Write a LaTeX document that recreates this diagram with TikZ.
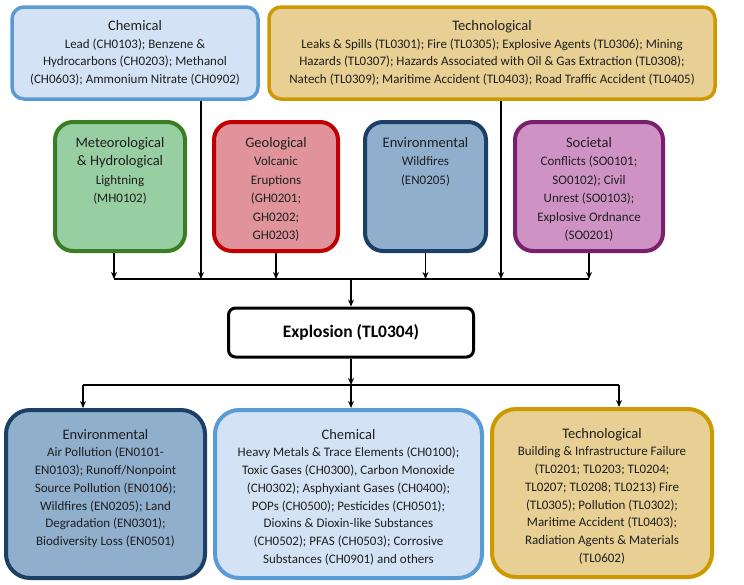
\documentclass[tikz,border=0pt]{standalone}
\usepackage{fontspec}
\setmainfont{Carlito}
\usetikzlibrary{positioning, arrows.meta}

\definecolor{chemfill}{HTML}{D3E3F5}
\definecolor{chemline}{HTML}{5B9BD5}
\definecolor{techfill}{HTML}{E8CF93}
\definecolor{techline}{HTML}{CC9900}
\definecolor{metfill}{HTML}{97CEA2}
\definecolor{metline}{HTML}{3B7D23}
\definecolor{geofill}{HTML}{E0939A}
\definecolor{geoline}{HTML}{C00000}
\definecolor{envfill}{HTML}{8FAFCD}
\definecolor{envline}{HTML}{1C3F66}
\definecolor{socfill}{HTML}{CE93C4}
\definecolor{socline}{HTML}{7A1F6D}

\newcommand{\cattitle}[1]{{\fontsize{14.5}{17.5}\selectfont #1}}

\begin{document}
\begin{tikzpicture}[
    x=1pt, y=-1pt,
    >={Stealth[length=7pt, width=6pt]},
    topbox/.style={draw, line width=3.5pt, rounded corners=12pt, align=center,
                   text=black!88, font=\fontsize{13}{17.5}\selectfont},
    midbox/.style={draw, line width=4pt, rounded corners=18pt, minimum height=129pt},
    lowbox/.style={draw, line width=4pt, rounded corners=24pt, minimum height=168pt},
    cattext/.style={align=center, inner sep=0pt, text=black!88,
                    font=\fontsize{13}{17.7}\selectfont},
    midtext/.style={cattext, font=\fontsize{13}{18.5}\selectfont},
    eventbox/.style={draw, line width=3pt, rounded corners=7pt, fill=white,
                     minimum width=245pt, minimum height=49pt,
                     font=\fontsize{17.5}{20}\selectfont\bfseries},
    arr/.style={->, line width=1.5pt},
    bus/.style={line width=1.5pt}
]
\useasboundingbox (0,0) rectangle (744,584);

% causes
\node[topbox, fill=chemfill, draw=chemline, minimum width=246pt, minimum height=92pt]
  (chemtop) at (135,53)
  {\cattitle{Chemical}\\Lead (CH0103); Benzene \&\\Hydrocarbons (CH0203); Methanol\\(CH0603); Ammonium Nitrate (CH0902)};
\node[topbox, fill=techfill, draw=techline, minimum width=446pt, minimum height=92pt]
  (techtop) at (492,53)
  {\cattitle{Technological}\\Leaks \& Spills (TL0301); Fire (TL0305); Explosive Agents (TL0306); Mining\\Hazards (TL0307); Hazards Associated with Oil \& Gas Extraction (TL0308);\\Natech (TL0309); Maritime Accident (TL0403); Road Traffic Accident (TL0405)};

\node[midbox, fill=metfill, draw=metline, minimum width=130pt] (met) at (120,186.5) {};
\node[midtext, below=17pt of met.north] (mettext)
  {\cattitle{Meteorological}\\\cattitle{\& Hydrological}\\Lightning\\(MH0102)};
\node[midbox, fill=geofill, draw=geoline, minimum width=124pt] (geo) at (276,186.5) {};
\node[midtext, below=17pt of geo.north] (geotext)
  {\cattitle{Geological}\\Volcanic\\Eruptions\\(GH0201;\\GH0202;\\GH0203)};
\node[midbox, fill=envfill, draw=envline, minimum width=121pt] (envmid) at (425.5,186.5) {};
\node[midtext, below=17pt of envmid.north] (envmidtext)
  {\cattitle{Environmental}\\Wildfires\\(EN0205)};
\node[midbox, fill=socfill, draw=socline, minimum width=148pt] (soc) at (589,186.5) {};
\node[midtext, below=17pt of soc.north] (soctext)
  {\cattitle{Societal}\\Conflicts (SO0101;\\SO0102); Civil\\Unrest (SO0103);\\Explosive Ordnance\\(SO0201)};

% junctions
\coordinate (jmet) at (114,279);
\coordinate (jchem) at (201,279);
\coordinate (jgeo) at (276,279);
\coordinate (jmid) at (351,279);
\coordinate (jenv) at (425.5,279);
\coordinate (jtech) at (501,279);
\coordinate (jsoc) at (589,279);

\draw[bus] (jmet) -- (jsoc);
\draw[arr] (met.south -| jmet) -- (jmet);
\draw[arr] (chemtop.south -| jchem) -- (jchem);
\draw[arr] (geo.south -| jgeo) -- (jgeo);
\draw[arr] (envmid.south -| jenv) -- (jenv);
\draw[arr] (techtop.south -| jtech) -- (jtech);
\draw[arr] (soc.south -| jsoc) -- (jsoc);

% hazard
\node[eventbox] (expl) at (351,332.5) {Explosion (TL0304)};
\draw[arr] (jmid) -- (expl.north);

% impacts
\node[lowbox, fill=envfill, draw=envline, minimum width=199pt] (envlow) at (105.5,494) {};
\node[cattext, below=21pt of envlow.north] (envlowtext)
  {\cattitle{Environmental}\\Air Pollution (EN0101-\\EN0103); Runoff/Nonpoint\\Source Pollution (EN0106);\\Wildfires (EN0205); Land\\Degradation (EN0301);\\Biodiversity Loss (EN0501)};
\node[lowbox, fill=chemfill, draw=chemline, minimum width=267pt] (chemlow) at (348.5,494) {};
\node[cattext, below=21pt of chemlow.north] (chemlowtext)
  {\cattitle{Chemical}\\Heavy Metals \& Trace Elements (CH0100);\\Toxic Gases (CH0300), Carbon Monoxide\\(CH0302); Asphyxiant Gases (CH0400);\\POPs (CH0500); Pesticides (CH0501);\\Dioxins \& Dioxin-like Substances\\(CH0502); PFAS (CH0503); Corrosive\\Substances (CH0901) and others};
\node[lowbox, fill=techfill, draw=techline, minimum width=220pt] (techlow) at (602,493) {};
\node[cattext, below=21pt of techlow.north] (techlowtext)
  {\cattitle{Technological}\\Building \& Infrastructure Failure\\(TL0201; TL0203; TL0204;\\TL0207; TL0208; TL0213) Fire\\(TL0305); Pollution (TL0302);\\Maritime Accident (TL0403);\\Radiation Agents \& Materials\\(TL0602)};

\coordinate (kenv) at (83,385);
\coordinate (kmid) at (351,385);
\coordinate (ktech) at (619,385);

\draw[bus] (kenv) -- (ktech);
\draw[arr] (expl.south) -- (kmid);
\draw[arr] (kenv) -- (kenv |- envlow.north);
\draw[arr] (kmid) -- (kmid |- chemlow.north);
\draw[arr] (ktech) -- (ktech |- techlow.north);

\end{tikzpicture}
\end{document}
